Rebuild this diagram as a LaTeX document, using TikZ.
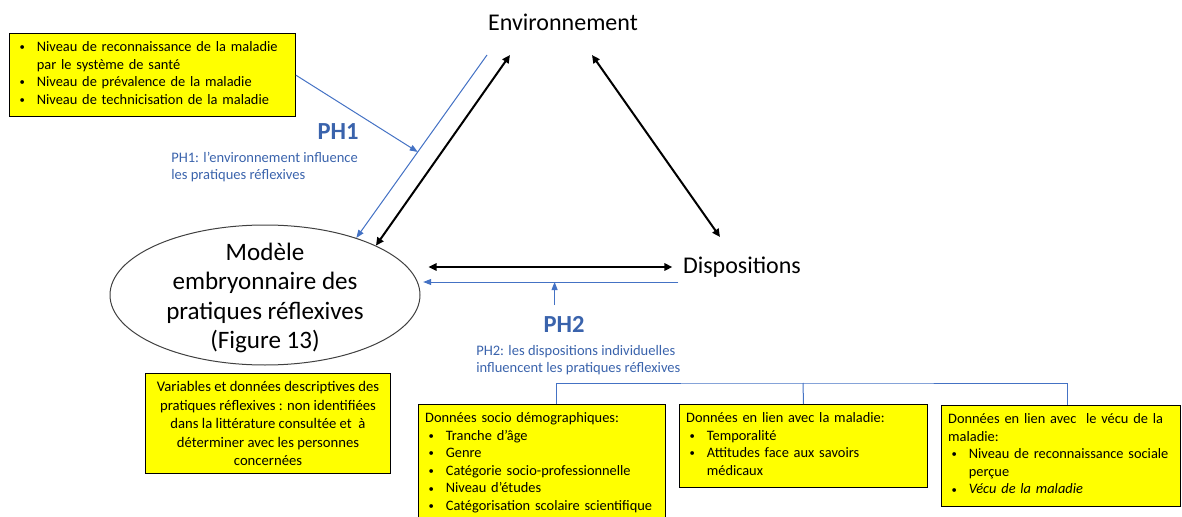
\documentclass[tikz,border=0pt]{standalone}
\usepackage{fontspec}
\setmainfont{Carlito}
\usetikzlibrary{arrows.meta,shapes.geometric}

\definecolor{bleu}{HTML}{4472C4}
\definecolor{bleutxt}{HTML}{3A63AC}
\definecolor{jaune}{HTML}{FFFF00}
\definecolor{gris}{HTML}{404040}

\newlength{\retrait}\setlength{\retrait}{15.5pt}
\newcommand{\pastille}{\raisebox{0.6pt}{\fontsize{8}{8}\selectfont\textbullet}}
\newcommand{\creux}{\rule[-3.5pt]{0pt}{3.5pt}}
\newcommand{\puce}[1]{\noindent\makebox[\retrait][l]{\hspace{2.5pt}\pastille}\mbox{#1}\creux\par}
\newcommand{\puceplus}[1]{\noindent\hspace*{\retrait}\mbox{#1}\creux\par}
\newcommand{\entete}[1]{\noindent\mbox{#1}\par}

\tikzstyle{lien}=[{Triangle[length=6pt,width=5.5pt]}-{Triangle[length=6pt,width=5.5pt]}, line width=1.5pt]
\tikzstyle{hyp}=[-{Triangle[length=6pt,width=4.5pt]}, bleu, line width=0.75pt]
\tikzstyle{arbre}=[bleu, line width=0.75pt]
\tikzstyle{cadre}=[draw=black, fill=jaune, line width=0.75pt, inner xsep=5pt, inner ysep=6pt, anchor=north west, align=left, font=\fontsize{10.8}{13.2}\selectfont]
\tikzstyle{grand}=[font=\fontsize{18}{22}\selectfont]
\tikzstyle{ph}=[text=bleutxt, font=\fontsize{18.4}{20}\selectfont\bfseries]
\tikzstyle{phtxt}=[text=bleutxt, align=left, inner sep=0pt, anchor=west, font=\fontsize{10.9}{12.75}\selectfont]

\begin{document}
\begin{tikzpicture}[x=0.75pt, y=-0.75pt]
    \useasboundingbox (0,0) rectangle (1182,517);
    \node[grand] (env) at (563,22) {Environnement};
    \node[grand] (disp) at (742,267) {Dispositions};
    \node[draw=gris, line width=0.75pt, ellipse, minimum width=232.5pt, minimum height=105pt, inner sep=0pt] (modele) at (265,295) {};
    \node[align=center, font=\fontsize{18.8}{22}\selectfont] (modeletxt) at (265,298) {Modèle\\embryonnaire des\\pratiques réflexives\\(Figure 13)};
    \node[ph] (ph1) at (338,132) {PH1};
    \node[phtxt] (ph1txt) at (171,167) {PH1: l’environnement influence\\les pratiques réflexives};
    \node[ph] (ph2) at (564,324) {PH2};
    \node[phtxt] (ph2txt) at (476,360) {PH2: les dispositions individuelles\\influencent les pratiques réflexives};
    \node[cadre, text width=204.5pt] (boite1) at (9,33) {\puce{Niveau de reconnaissance de la maladie}\puceplus{par le système de santé}\puce{Niveau de prévalence de la maladie}\puce{Niveau de technicisation de la maladie}};
    \node[cadre, align=center, minimum width=183.75pt, inner ysep=6pt, font=\fontsize{11}{13.9}\selectfont] (variables) at (145,373) {Variables et données descriptives des\\pratiques réflexives : non identifiées\\dans la littérature consultée et\ \ à\\déterminer avec les personnes\\concernées};
    \node[cadre, text width=175.25pt] (donneesA) at (418,404) {\entete{Données socio démographiques:}\puce{Tranche d’âge}\puce{Genre}\puce{Catégorie socio-professionnelle}\puce{Niveau d’études}\puce{Catégorisation scolaire scientifique}};
    \node[cadre, text width=176pt] (donneesB) at (679,404) {\entete{Données en lien avec la maladie:}\puce{Temporalité}\puce{Attitudes face aux savoirs}\puceplus{médicaux}};
    \node[cadre, text width=169.25pt] (donneesC) at (941,405) {\entete{Données en lien avec\ \ le vécu de la}\entete{maladie:}\puce{Niveau de reconnaissance sociale}\puceplus{perçue}\puce{\textit{Vécu de la maladie}}};
    \draw[lien] ([shift={(-53,33)}]env.center) to (modele.24);
    \draw[lien] ([shift={(29,33)}]env.center) to ([shift={(-22,-30)}]disp.center);
    \draw[lien, shorten <=6pt, shorten >=4.5pt] (modele.east |- disp.west) to (disp.west);
    \draw[hyp] ([shift={(-76,33)}]env.center) -- coordinate[pos=0.53] (cible1) (modele.32);
    \draw[hyp] (boite1.east) to (cible1);
    \coordinate (depart2) at ([yshift=-11.25pt]disp.west);
    \draw[hyp, shorten >=2pt] (depart2) -- coordinate[pos=0.48] (cible2) (depart2 -| modele.east);
    \coordinate (pied2) at ([yshift=4.5pt]ph2.north);
    \draw[hyp] (pied2 -| cible2) to (cible2);
    \coordinate (barre) at (803,383);
    \draw[arbre] ([xshift=10.9pt]donneesA.north) |- (barre) -| ([xshift=4.9pt]donneesC.north);
    \draw[arbre] (barre) to (donneesB.north);
  \end{tikzpicture}
\end{document}
